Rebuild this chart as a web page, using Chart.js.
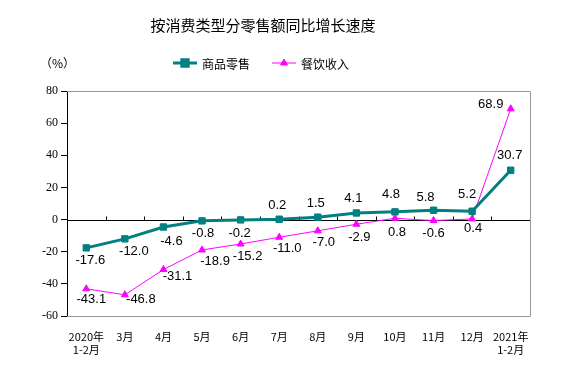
<!DOCTYPE html>
<html>
<head>
<meta charset="utf-8">
<script src="https://cdn.jsdelivr.net/npm/chart.js@4.4.1/dist/chart.umd.min.js"></script>
<style>
    html, body { margin: 0; padding: 0; background: #fff; }
    #wrap { width: 562px; height: 370px; }
</style>
</head>
<body>
<div id="wrap"><canvas id="salesChart" width="562" height="370"></canvas></div>
<script>
// 数据
const categories = [['2020年', '1-2月'], '3月', '4月', '5月', '6月', '7月', '8月', '9月', '10月', '11月', '12月', ['2021年', '1-2月']];
const goodsRetail = [-17.6, -12.0, -4.6, -0.8, -0.2, 0.2, 1.5, 4.1, 4.8, 5.8, 5.2, 30.7];
const cateringIncome = [-43.1, -46.8, -31.1, -18.9, -15.2, -11.0, -7.0, -2.9, 0.8, -0.6, 0.4, 68.9];
const yMin = -60;
const yMax = 80;
const yStep = 20;

const titleText = '按消费类型分零售额同比增长速度';
const unitText = '（%）';
const seriesNames = ['商品零售', '餐饮收入'];

const TEAL = '#008080';
const MAGENTA = '#FF00FF';

// 数据标签相对点的偏移 [dx, dy]
const goodsLabelShift = [[4, 13], [9, 13], [8, 14], [1, 13], [-1, 14], [-2, -14], [-2, -14], [-3, -15], [-4, -17], [-8, -13], [-5, -17], [-1, -15]];
const cateringLabelShift = [[5, 11], [16, 5], [14, 7], [13, 11], [7, 12], [8, 11], [6, 12], [3, 13], [2, 14], [0, 13], [1, 9], [-20, -4]];

const framePlugin = {
    id: 'frame',
    beforeDatasetsDraw(chart) {
        const { ctx, chartArea } = chart;
        const y = chart.scales.y;
        const { left, right, top, bottom } = chartArea;
        ctx.save();
        // 灰色边框
        ctx.strokeStyle = '#999999';
        ctx.lineWidth = 1;
        ctx.beginPath();
        ctx.moveTo(left, top + 0.5);
        ctx.lineTo(right + 0.5, top + 0.5);
        ctx.lineTo(right + 0.5, bottom + 0.5);
        ctx.lineTo(left, bottom + 0.5);
        ctx.stroke();
        // 零轴
        const y0 = Math.round(y.getPixelForValue(0)) + 0.5;
        ctx.strokeStyle = '#000000';
        ctx.beginPath();
        ctx.moveTo(left, y0);
        ctx.lineTo(right, y0);
        const step = (right - left) / categories.length;
        for (let i = 1; i < categories.length; i++) {
            const x = Math.round(left + step * i) + 0.5;
            ctx.moveTo(x, y0);
            ctx.lineTo(x, y0 - 4);
        }
        ctx.stroke();
        ctx.restore();
    },
    afterDatasetsDraw(chart) {
        const { ctx } = chart;
        ctx.save();
        ctx.font = '13px "Liberation Sans", Arial, sans-serif';
        ctx.fillStyle = '#000000';
        ctx.textAlign = 'center';
        ctx.textBaseline = 'middle';
        const shifts = [goodsLabelShift, cateringLabelShift];
        chart.data.datasets.forEach((ds, di) => {
            const meta = chart.getDatasetMeta(di);
            meta.data.forEach((pt, i) => {
                const s = shifts[di][i];
                ctx.fillText(ds.data[i].toFixed(1), pt.x + s[0], pt.y + s[1]);
            });
        });

        // 标题
        ctx.font = '15px "Noto Sans CJK SC", sans-serif';
        ctx.fillText(titleText, 263, 25);

        // 单位
        ctx.font = '12px "Noto Sans CJK SC", sans-serif';
        ctx.textAlign = 'left';
        ctx.fillText(unitText, 40, 63);

        // 图例
        drawLegendItem(ctx, 173, 63, TEAL, 3, 'rect', 4.5, seriesNames[0]);
        drawLegendItem(ctx, 272, 63, MAGENTA, 1, 'triangle', 4, seriesNames[1]);
        ctx.restore();
    }
};

function drawLegendItem(ctx, x, y, color, width, style, radius, text) {
    ctx.strokeStyle = color;
    ctx.fillStyle = color;
    ctx.lineWidth = width;
    ctx.beginPath();
    ctx.moveTo(x, y);
    ctx.lineTo(x + 24, y);
    ctx.stroke();
    Chart.helpers.drawPoint(ctx, { pointStyle: style, radius: radius, borderWidth: 1 }, x + 12, y);
    ctx.fillStyle = '#000000';
    ctx.font = '12px "Noto Sans CJK SC", sans-serif';
    ctx.textAlign = 'left';
    ctx.fillText(text, x + 29, y + 1);
}

new Chart(document.getElementById('salesChart').getContext('2d'), {
    type: 'line',
    data: {
        labels: categories,
        datasets: [
            {
                label: seriesNames[0],
                data: goodsRetail,
                borderColor: TEAL,
                backgroundColor: TEAL,
                borderWidth: 3,
                pointStyle: 'rect',
                pointRadius: 4.5,
                pointBorderWidth: 1,
                tension: 0
            },
            {
                label: seriesNames[1],
                data: cateringIncome,
                borderColor: MAGENTA,
                backgroundColor: MAGENTA,
                borderWidth: 1,
                pointStyle: 'triangle',
                pointRadius: 4,
                pointBorderWidth: 1,
                tension: 0
            }
        ]
    },
    options: {
        responsive: false,
        animation: false,
        layout: {
            padding: { left: 0, right: 32, top: 91, bottom: 0 }
        },
        scales: {
            x: {
                offset: true,
                grid: { display: false },
                border: { display: false },
                ticks: {
                    color: '#000000',
                    padding: 6,
                    maxRotation: 0,
                    autoSkip: false,
                    font: { family: '"Noto Sans CJK SC", sans-serif', size: 11 }
                },
                afterFit(scale) { scale.height = 54; }
            },
            y: {
                min: yMin,
                max: yMax,
                ticks: {
                    stepSize: yStep,
                    color: '#000000',
                    padding: 3,
                    font: { family: '"Liberation Serif", "Times New Roman", serif', size: 12 }
                },
                grid: {
                    drawOnChartArea: false,
                    drawTicks: true,
                    tickLength: 6,
                    color: '#000000'
                },
                border: { display: true, color: '#000000', width: 1 },
                afterFit(scale) { scale.width = 67; }
            }
        },
        plugins: {
            legend: { display: false },
            title: { display: false },
            tooltip: { enabled: false }
        }
    },
    plugins: [framePlugin]
});
</script>
</body>
</html>
